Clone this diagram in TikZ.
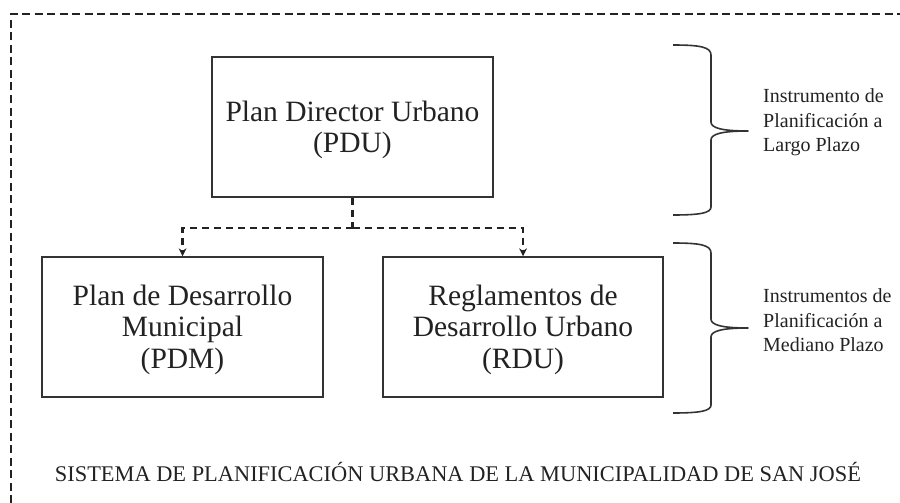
\documentclass[tikz,border=0pt]{standalone}
\usepackage{fontspec}
\setmainfont{Liberation Serif}
\usetikzlibrary{arrows.meta}
\definecolor{ink}{HTML}{222222}
\definecolor{edge}{HTML}{333333}
\begin{document}
\begin{tikzpicture}[x=1pt,y=-1pt,
  box/.style={draw=edge,line width=1.5pt,minimum width=281pt,minimum height=140pt,inner sep=0pt},
  boxtext/.style={align=center,inner sep=0pt,text=ink,font=\fontsize{29.5}{31.5}\selectfont},
  frameline/.style={draw=ink,line width=2pt,dash pattern=on 8pt off 4.5pt},
  dline/.style={draw=ink,line width=2.2pt,dash pattern=on 7pt off 5pt},
  conn/.style={dline,-{Stealth[length=8pt,width=8pt,line width=0pt]}},
  bracepath/.style={draw=edge,line width=1.6pt,line join=round},
  side/.style={align=left,inner sep=0pt,text=ink,font=\fontsize{20}{24.5}\selectfont},
  title/.style={inner sep=0pt,text=ink,font=\fontsize{22.4}{26}\selectfont}]
\useasboundingbox (0,0) rectangle (900,503);
% frame (open at right and bottom)
\draw[frameline] (11,503) -- (11,14) -- (900,14);
% boxes
\node[box,label={[boxtext,yshift=-2.7pt]center:{Plan Director Urbano\\(PDU)}}] (pdu) at (352.5,127) {};
\node[box,label={[boxtext,yshift=-2.5pt]center:{Plan de Desarrollo\\Municipal\\(PDM)}}] (pdm) at (182.5,327) {};
\node[box,minimum width=280pt,label={[boxtext,yshift=-2.5pt]center:{Reglamentos de\\Desarrollo Urbano\\(RDU)}}] (rdu) at (523,327) {};
% connectors
\coordinate (j) at (352.5,228);
\draw[dline] (pdu.south) -- (j);
\draw[conn] (j) -| (pdm.north);
\draw[conn] (j) -| (rdu.north);
% braces
\draw[bracepath] (673,45) .. controls (700,45) and (711,47) .. (711,55) -- (711,122)
  .. controls (711,128) and (722,131) .. (748,131)
  .. controls (722,131) and (711,134) .. (711,140) -- (711,207)
  .. controls (711,213) and (700,215) .. (673,215);
\draw[bracepath] (673,243) .. controls (700,243) and (711,245) .. (711,253) -- (711,319)
  .. controls (711,325) and (722,328) .. (748,328)
  .. controls (722,328) and (711,331) .. (711,337) -- (711,405)
  .. controls (711,411) and (700,413) .. (673,413);
% side labels
\node[side,anchor=west] (lp) at (763,122.5) {Instrumento de\\Planificación a\\Largo Plazo};
\node[side,anchor=west] (mp) at (763,320.5) {Instrumentos de\\Planificación a\\Mediano Plazo};
% title
\node[title,anchor=base] (t) at (458,481) {SISTEMA DE PLANIFICACIÓN URBANA DE LA MUNICIPALIDAD DE SAN JOSÉ};
\end{tikzpicture}
\end{document}
